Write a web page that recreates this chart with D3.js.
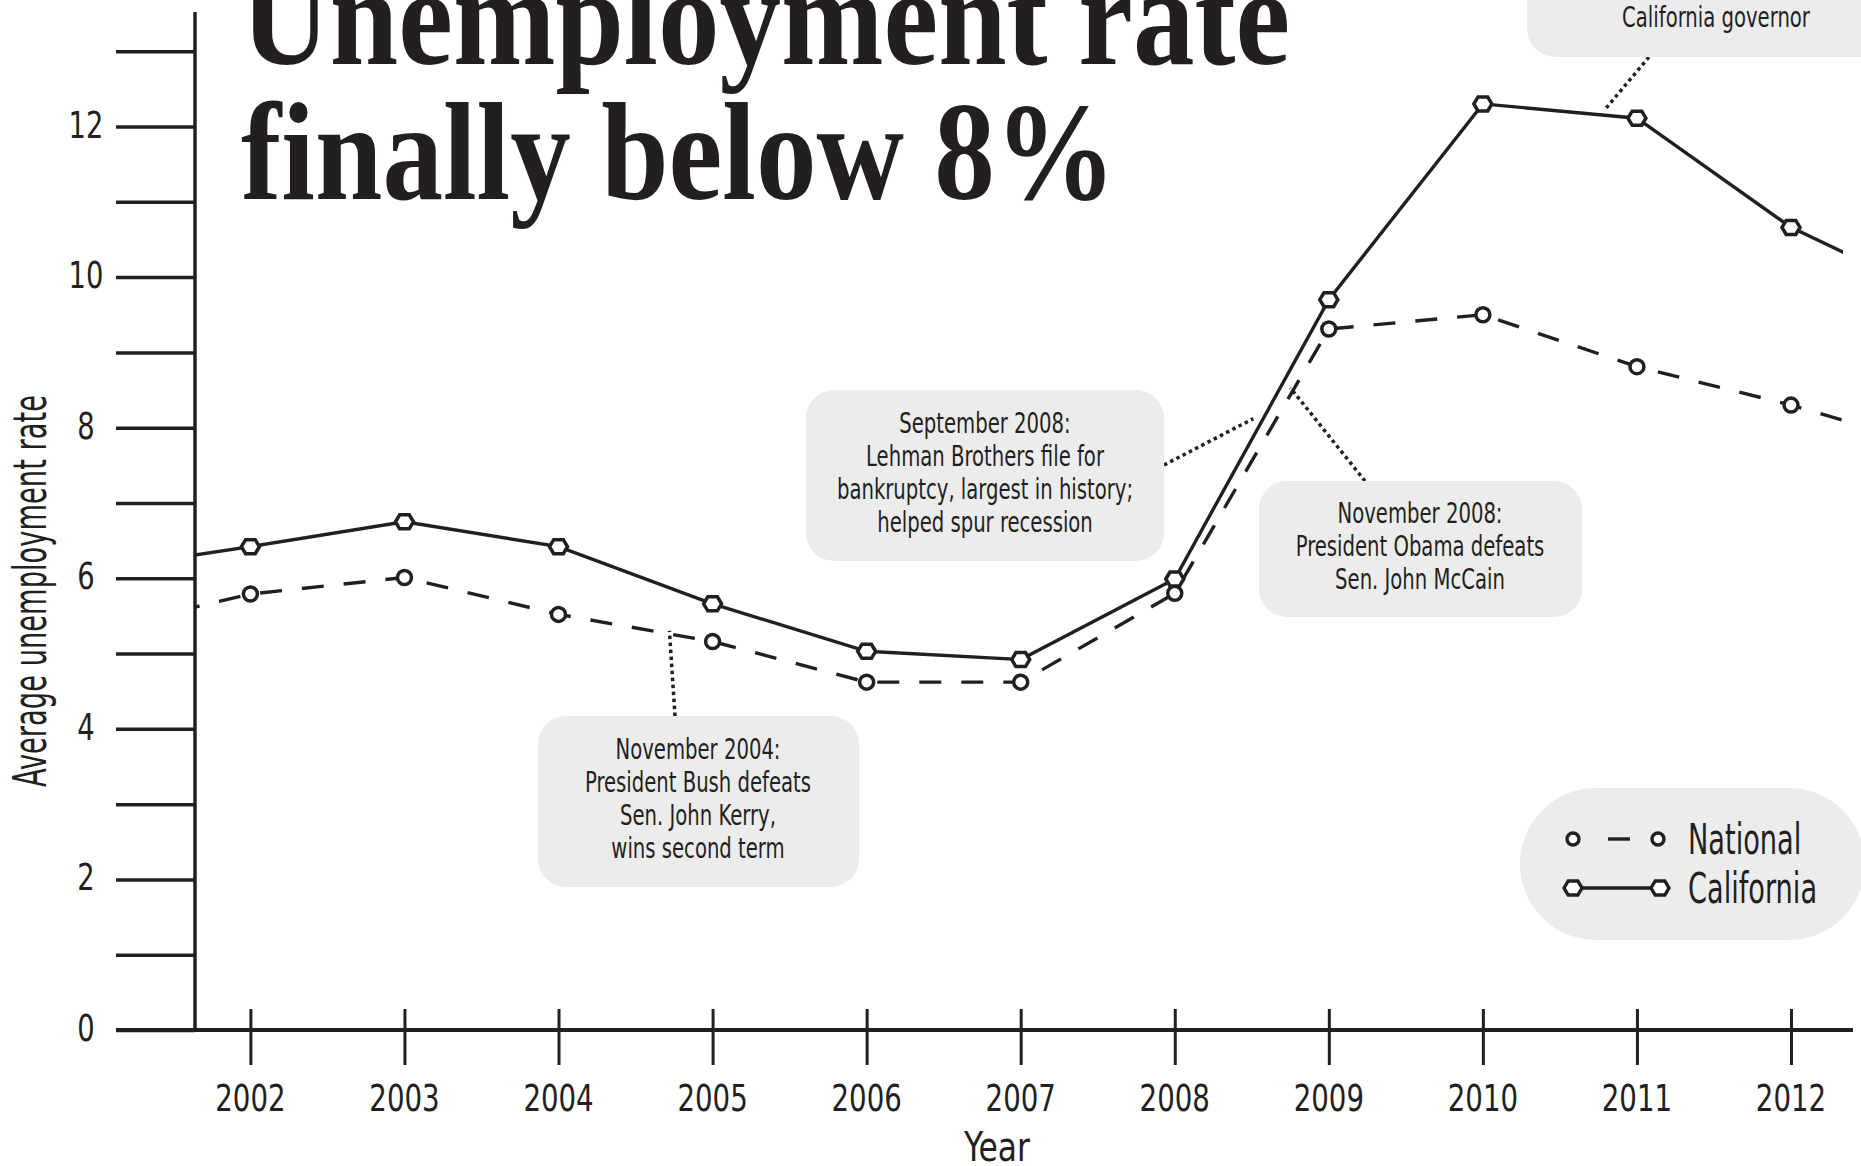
<html>
<head>
    <title>Unemployment rate finally below 8%</title>
    <style>
        body { margin: 0; background: #fff; }
        svg { display: block; }
        .cond {
            font-family: "Liberation Sans Narrow", "DejaVu Sans Condensed", "Roboto Condensed", sans-serif;
            font-stretch: condensed;
            fill: #231f20;
        }
        .title {
            font-family: "Liberation Serif", "DejaVu Serif", serif;
            font-weight: bold;
            fill: #231f20;
        }
    </style>
</head>
<body>
<script src="https://d3js.org/d3.v7.min.js"></script>
<script>
// data (2001 and 2013 only show as line stubs at the edges)
var years = [2001, 2002, 2003, 2004, 2005, 2006, 2007, 2008, 2009, 2010, 2011, 2012, 2013];
var national = [5.31, 5.79, 6.01, 5.52, 5.16, 4.62, 4.62, 5.80, 9.31, 9.50, 8.81, 8.30, 7.70];
var california = [6.11, 6.42, 6.75, 6.42, 5.66, 5.03, 4.92, 5.99, 9.70, 12.30, 12.11, 10.66, 9.69];

var yearTicks = [2002, 2003, 2004, 2005, 2006, 2007, 2008, 2009, 2010, 2011, 2012];
var rateTicks = [0, 1, 2, 3, 4, 5, 6, 7, 8, 9, 10, 11, 12, 13];
var rateLabels = [0, 2, 4, 6, 8, 10, 12];

var seriesNames = ['National', 'California'];

// callouts: text + the point on the chart they refer to (year, rate)
var noteTexts = [
    ['November 2010:', 'Jerry Brown elected', 'California governor'],
    ['September 2008:', 'Lehman Brothers file for', 'bankruptcy, largest in history;', 'helped spur recession'],
    ['November 2008:', 'President Obama defeats', 'Sen. John McCain'],
    ['November 2004:', 'President Bush defeats', 'Sen. John Kerry,', 'wins second term']
];
var noteTargets = [[2010.79, 12.22], [2008.51, 8.12], [2008.75, 8.53], [2004.72, 5.30]];

var width = 1861;
var height = 1166;
var ink = '#231f20';
var boxFill = '#ececec';

// plot frame
var axisX = 195;       // y axis position
var baseY = 1030;      // x axis position
var clipRight = 1843;

var svg = d3.select('body')
    .append('svg')
    .attr('width', width)
    .attr('height', height);

// squeezed sans text, the original uses a condensed face
function condText(parent, x, y, str, size, sx, anchor) {
    return parent.append('text')
        .attr('class', 'cond')
        .attr('transform', 'translate(' + x + ',' + y + ') scale(' + sx + ',1)')
        .attr('text-anchor', anchor || 'middle')
        .style('font-size', size + 'px')
        .text(str);
}

// scales
var x = d3.scaleLinear().domain([2002, 2012]).range([250.4, 1791]);
var y = d3.scaleLinear().domain([0, 12]).range([baseY, 126.5]);

svg.append('defs')
    .append('clipPath')
    .attr('id', 'plot-clip')
    .append('rect')
    .attr('x', axisX)
    .attr('y', 0)
    .attr('width', clipRight - axisX)
    .attr('height', baseY);

// annotation boxes (layout in pixels)
var boxes = [
    {x: 1527, y: -120, w: 400, h: 177, tx: 1716, ty: 27, lines: noteTexts[0], from: [1649, 57]},
    {x: 806, y: 390, w: 358, h: 171, tx: 985, ty: 532, lines: noteTexts[1], from: [1164, 465]},
    {x: 1259, y: 481, w: 323, h: 136, tx: 1420, ty: 589, lines: noteTexts[2], from: [1365, 481]},
    {x: 538, y: 716, w: 321, h: 171, tx: 698, ty: 858, lines: noteTexts[3], from: [675, 716]}
];
var lineGap = 33;

var notes = svg.append('g').attr('class', 'notes');

boxes.forEach(function(b, i) {
    notes.append('line')
        .attr('x1', b.from[0])
        .attr('y1', b.from[1])
        .attr('x2', x(noteTargets[i][0]))
        .attr('y2', y(noteTargets[i][1]))
        .attr('stroke', ink)
        .attr('stroke-width', 3.5)
        .attr('stroke-dasharray', '3.5,3.5');

    notes.append('rect')
        .attr('x', b.x)
        .attr('y', b.y)
        .attr('width', b.w)
        .attr('height', b.h)
        .attr('rx', 28)
        .attr('fill', boxFill);

    // last line sits at ty, others stack above it
    var n = b.lines.length;
    b.lines.forEach(function(t, j) {
        condText(notes, b.tx, b.ty - (n - 1 - j) * lineGap, t, 28, 0.78);
    });
});

// series
var nat = years.map(function(d, i) { return {year: d, value: national[i]}; });
var cal = years.map(function(d, i) { return {year: d, value: california[i]}; });

var line = d3.line()
    .x(function(d) { return x(d.year); })
    .y(function(d) { return y(d.value); });

var plot = svg.append('g').attr('clip-path', 'url(#plot-clip)');

plot.append('path')
    .datum(nat)
    .attr('d', line)
    .attr('fill', 'none')
    .attr('stroke', ink)
    .attr('stroke-width', 3.4)
    .attr('stroke-dasharray', '22,20');

plot.append('path')
    .datum(cal)
    .attr('d', line)
    .attr('fill', 'none')
    .attr('stroke', ink)
    .attr('stroke-width', 3.4);

var hexagon = 'M-9,0L-4.8,-7L4.8,-7L9,0L4.8,7L-4.8,7Z';

plot.selectAll('.nat-dot')
    .data(nat)
    .enter()
    .append('circle')
    .attr('class', 'nat-dot')
    .attr('cx', function(d) { return x(d.year); })
    .attr('cy', function(d) { return y(d.value); })
    .attr('r', 7)
    .attr('fill', '#fff')
    .attr('stroke', ink)
    .attr('stroke-width', 3.5);

plot.selectAll('.cal-dot')
    .data(cal)
    .enter()
    .append('path')
    .attr('class', 'cal-dot')
    .attr('d', hexagon)
    .attr('transform', function(d) { return 'translate(' + x(d.year) + ',' + y(d.value) + ')'; })
    .attr('fill', '#fff')
    .attr('stroke', ink)
    .attr('stroke-width', 3.5);

// y axis
var yAxis = d3.axisLeft(y)
    .tickValues(rateTicks)
    .tickSize(79)
    .tickFormat('');

var gy = svg.append('g')
    .attr('class', 'y-axis')
    .attr('transform', 'translate(' + axisX + ',0)')
    .call(yAxis);

gy.select('.domain').remove();
gy.selectAll('.tick line').attr('stroke', ink).attr('stroke-width', 3.5);
gy.selectAll('.tick text').remove();

rateLabels.forEach(function(d) {
    condText(gy, -109, y(d) + 11, d, 38, 0.8);
});

gy.append('line')
    .attr('x1', 0)
    .attr('x2', 0)
    .attr('y1', y(13.52))
    .attr('y2', baseY)
    .attr('stroke', ink)
    .attr('stroke-width', 3.5);

// x axis
var xAxis = d3.axisBottom(x)
    .tickValues(yearTicks)
    .tickSize(35)
    .tickFormat('');

var gx = svg.append('g')
    .attr('class', 'x-axis')
    .attr('transform', 'translate(0,' + baseY + ')')
    .call(xAxis);

gx.select('.domain').remove();
gx.selectAll('.tick line')
    .attr('y1', -21)
    .attr('stroke', ink)
    .attr('stroke-width', 3);
gx.selectAll('.tick text').remove();

yearTicks.forEach(function(d) {
    condText(gx, x(d), 81, d, 37, 0.83);
});

gx.append('line')
    .attr('x1', 116)
    .attr('x2', 1853)
    .attr('y1', 0)
    .attr('y2', 0)
    .attr('stroke', ink)
    .attr('stroke-width', 4);

// axis titles
condText(svg, 997, 1161, 'Year', 41, 0.85);

svg.append('text')
    .attr('class', 'cond')
    .attr('transform', 'translate(46,591) rotate(-90)')
    .attr('text-anchor', 'middle')
    .attr('textLength', 392)
    .attr('lengthAdjust', 'spacingAndGlyphs')
    .style('font-size', '46px')
    .text('Average unemployment rate');

// legend
var legend = svg.append('g').attr('class', 'legend');

legend.append('rect')
    .attr('x', 1520)
    .attr('y', 788)
    .attr('width', 345)
    .attr('height', 152)
    .attr('rx', 76)
    .attr('fill', boxFill);

var rows = [839, 888];

legend.append('line')
    .attr('x1', 1608).attr('x2', 1630)
    .attr('y1', rows[0]).attr('y2', rows[0])
    .attr('stroke', ink).attr('stroke-width', 3.4);

legend.selectAll('.leg-dot')
    .data([1573, 1658])
    .enter()
    .append('circle')
    .attr('cx', function(d) { return d; })
    .attr('cy', rows[0])
    .attr('r', 6)
    .attr('fill', '#fff')
    .attr('stroke', ink)
    .attr('stroke-width', 3.4);

legend.append('line')
    .attr('x1', 1573).attr('x2', 1660)
    .attr('y1', rows[1]).attr('y2', rows[1])
    .attr('stroke', ink).attr('stroke-width', 3.4);

legend.selectAll('.leg-hex')
    .data([1573, 1660])
    .enter()
    .append('path')
    .attr('d', hexagon)
    .attr('transform', function(d) { return 'translate(' + d + ',' + rows[1] + ')'; })
    .attr('fill', '#fff')
    .attr('stroke', ink)
    .attr('stroke-width', 3.4);

seriesNames.forEach(function(d, i) {
    condText(legend, 1688, rows[i] + 15, d, 42, 0.72, 'start');
});

// headline
var title = svg.append('g');
title.append('text')
    .attr('class', 'title')
    .attr('x', 241)
    .attr('y', 64)
    .attr('textLength', 1049)
    .attr('lengthAdjust', 'spacingAndGlyphs')
    .style('font-size', '140px')
    .text('Unemployment rate');

title.append('text')
    .attr('class', 'title')
    .attr('x', 241)
    .attr('y', 199)
    .attr('textLength', 875)
    .attr('lengthAdjust', 'spacingAndGlyphs')
    .style('font-size', '140px')
    .text('finally below 8%');
</script>
</body>
</html>
